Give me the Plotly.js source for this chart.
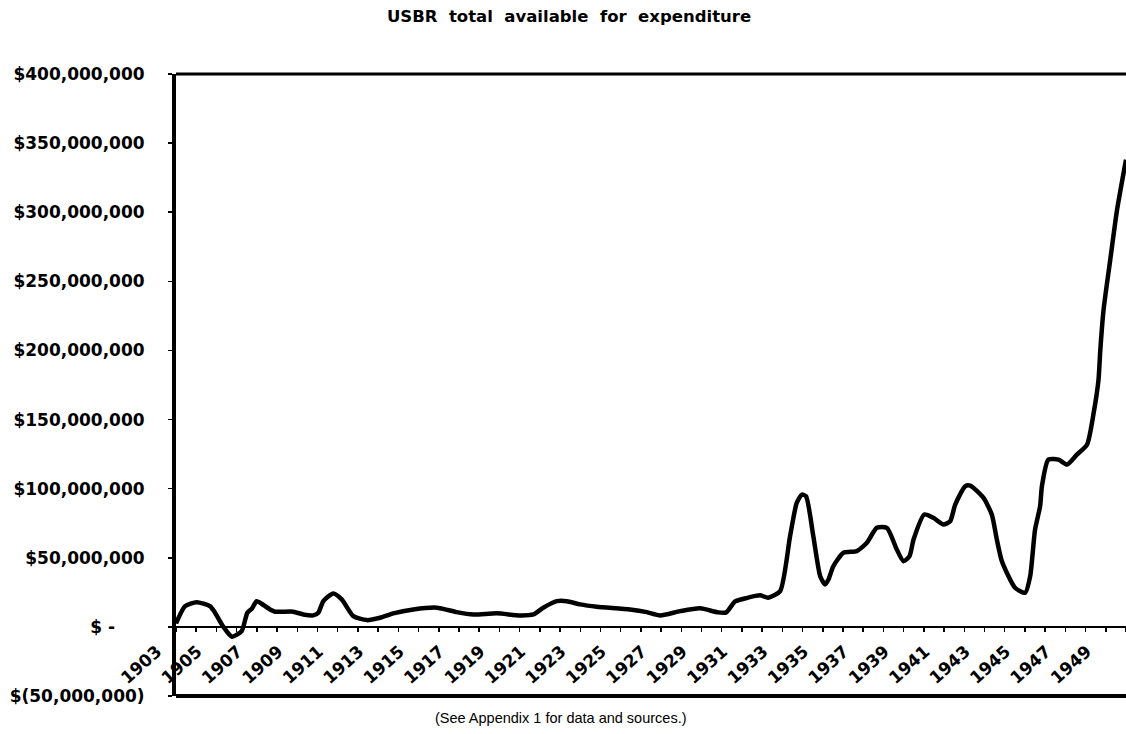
<!DOCTYPE html>
<html>
<head>
<meta charset="utf-8">
<script src="https://cdn.plot.ly/plotly-3.0.1.min.js"></script>
<style>
  html, body { margin: 0; padding: 0; background: #fff; }
  #chart { width: 1126px; height: 734px; }
</style>
</head>
<body>
<div id="chart"></div>
<script>
// Values (year, millions of dollars)
const years = [
  1903.00, 1903.45, 1904.02, 1904.68, 1904.93, 1905.33, 1905.77, 1906.25, 1906.53, 1906.75,
  1906.99, 1907.16, 1907.65, 1907.90, 1908.80, 1909.30, 1909.79, 1910.04, 1910.29, 1910.78,
  1911.20, 1911.77, 1912.44, 1913.09, 1913.75, 1914.74, 1915.90, 1916.89, 1917.71, 1918.87,
  1920.02, 1920.68, 1921.17, 1921.84, 1922.33, 1922.99, 1923.82, 1925.46, 1926.29, 1926.95,
  1927.94, 1928.93, 1929.82, 1930.22, 1930.66, 1931.26, 1931.90, 1932.30, 1932.89, 1933.38,
  1933.71, 1933.96, 1934.17, 1934.53, 1934.87, 1935.11, 1935.28, 1935.52, 1936.02, 1936.68,
  1937.18, 1937.67, 1938.17, 1938.66, 1938.99, 1939.29, 1939.49, 1940.02, 1940.47, 1940.97,
  1941.30, 1941.55, 1942.04, 1942.29, 1942.95, 1943.36, 1943.61, 1943.86, 1944.51, 1945.01,
  1945.26, 1945.50, 1945.75, 1945.84, 1946.16, 1946.66, 1947.08, 1947.57, 1948.07, 1948.40,
  1948.64, 1948.73, 1948.89, 1949.22, 1949.55, 1950.00
];
const totalAvailableMillions = [
  2.5, 15.0, 17.9, 15.0, 10.3, 0.4, -7.1, -3.0, 10.3, 13.1,
  18.6, 17.5, 12.6, 11.0, 11.0, 9.0, 8.3, 10.3, 18.6, 24.2,
  19.9, 7.8, 4.9, 6.6, 9.8, 12.6, 13.9, 10.7, 9.0, 9.8,
  8.3, 9.0, 13.9, 18.6, 18.6, 16.3, 14.6, 12.6, 10.7, 8.3,
  11.4, 13.4, 10.5, 10.5, 18.4, 21.0, 22.8, 21.1, 25.9, 65.6,
  89.7, 95.7, 94.5, 65.6, 36.7, 30.7, 34.3, 43.9, 53.6, 54.8,
  60.8, 71.7, 71.7, 56.0, 47.5, 51.2, 63.2, 81.3, 78.9, 74.1,
  76.4, 88.5, 101.7, 102.2, 93.3, 81.3, 63.2, 47.5, 28.3, 24.7,
  36.7, 70.4, 87.3, 101.7, 121.0, 121.0, 117.4, 124.6, 131.8, 154.8,
  178.8, 200.5, 229.4, 265.5, 301.0, 338.0
];

// Axis ticks and labels
const yTickValues = [-50, 0, 50, 100, 150, 200, 250, 300, 350, 400];
const yTickLabels = [
  '$(50,000,000)', '$ -\u00A0\u00A0\u00A0\u00A0\u00A0', '$50,000,000', '$100,000,000',
  '$150,000,000', '$200,000,000', '$250,000,000', '$300,000,000',
  '$350,000,000', '$400,000,000'
];
const xLabelYears = [1903, 1905, 1907, 1909, 1911, 1913, 1915, 1917, 1919, 1921, 1923, 1925,
  1927, 1929, 1931, 1933, 1935, 1937, 1939, 1941, 1943, 1945, 1947, 1949];
const xLabelText = ['1903', '1905', '1907', '1909', '1911', '1913', '1915', '1917', '1919', '1921',
  '1923', '1925', '1927', '1929', '1931', '1933', '1935', '1937', '1939', '1941', '1943', '1945',
  '1947', '1949'];
const xMinorYears = [1904, 1906, 1908, 1910, 1912, 1914, 1916, 1918, 1920, 1922, 1924, 1926,
  1928, 1930, 1932, 1934, 1936, 1938, 1940, 1942, 1944, 1946, 1948, 1950];

const titleText = 'USBR\u00A0\u00A0total\u00A0\u00A0available\u00A0\u00A0for\u00A0\u00A0expenditure';
const noteText = '(See Appendix 1 for data and sources.)';

const yMin = -50, yMax = 400;
const zeroPos = (0 - yMin) / (yMax - yMin);

const trace = {
  x: years,
  y: totalAvailableMillions,
  type: 'scatter',
  mode: 'lines',
  line: { color: '#000', width: 4.5, shape: 'spline', smoothing: 0.6 },
  hoverinfo: 'skip',
  showlegend: false
};

const layout = {
  width: 1126,
  height: 734,
  margin: { l: 176, r: 0, t: 74, b: 38, pad: 0 },
  paper_bgcolor: '#fff',
  plot_bgcolor: '#fff',
  showlegend: false,
  title: {
    text: titleText,
    font: { family: 'DejaVu Sans', size: 16.5, color: '#000', weight: 'bold' },
    xref: 'container', yref: 'container',
    x: 569 / 1126, xanchor: 'center',
    y: 1 - 16 / 734, yanchor: 'middle'
  },
  xaxis: {
    range: [1903, 1950],
    anchor: 'free',
    position: zeroPos,
    showgrid: false,
    zeroline: false,
    showline: true,
    linecolor: '#000',
    linewidth: 2,
    ticks: 'outside',
    ticklen: 4,
    tickwidth: 1.5,
    tickcolor: '#000',
    tickmode: 'array',
    tickvals: xLabelYears,
    ticktext: xLabelText,
    tickangle: -42,
    ticklabelshift: -19,
    ticklabelstandoff: 3,
    tickfont: { family: 'DejaVu Sans', size: 17, color: '#000', weight: 'bold' },
    minor: { tickmode: 'array', tickvals: xMinorYears, ticks: 'outside', ticklen: 4, tickwidth: 1.5, tickcolor: '#000', showgrid: false },
    fixedrange: true
  },
  xaxis2: {
    range: [1903, 1950],
    overlaying: 'x',
    anchor: 'free',
    position: zeroPos,
    showgrid: false,
    zeroline: false,
    showline: false,
    ticks: 'inside',
    ticklen: 4,
    tickwidth: 1.5,
    tickcolor: '#000',
    tickmode: 'array',
    tickvals: xLabelYears.concat(xMinorYears),
    showticklabels: false
  },
  yaxis: {
    range: [yMin, yMax],
    showgrid: false,
    zeroline: false,
    showline: true,
    linecolor: '#000',
    linewidth: 4,
    ticks: 'outside',
    ticklen: 4,
    tickwidth: 1.5,
    tickcolor: '#000',
    tickmode: 'array',
    tickvals: yTickValues,
    ticktext: yTickLabels,
    tickfont: { family: 'DejaVu Sans', size: 17, color: '#000', weight: 'bold' },
    ticklabelstandoff: 20,
    fixedrange: true
  },
  shapes: [
    { type: 'line', xref: 'paper', yref: 'paper', x0: 0, x1: 1, y0: 1, y1: 1, line: { color: '#000', width: 3 } },
    { type: 'line', xref: 'paper', yref: 'paper', x0: 0, x1: 1, y0: 0, y1: 0, line: { color: '#000', width: 4 } }
  ],
  annotations: [
    {
      text: noteText,
      xref: 'paper', yref: 'paper',
      x: (561 - 176) / 950, xanchor: 'center',
      y: -22 / 622, yanchor: 'middle',
      showarrow: false,
      font: { family: 'Liberation Sans', size: 14.5, color: '#000' }
    }
  ]
};

Plotly.newPlot('chart', [trace], layout, { staticPlot: true, displayModeBar: false });
</script>
</body>
</html>
